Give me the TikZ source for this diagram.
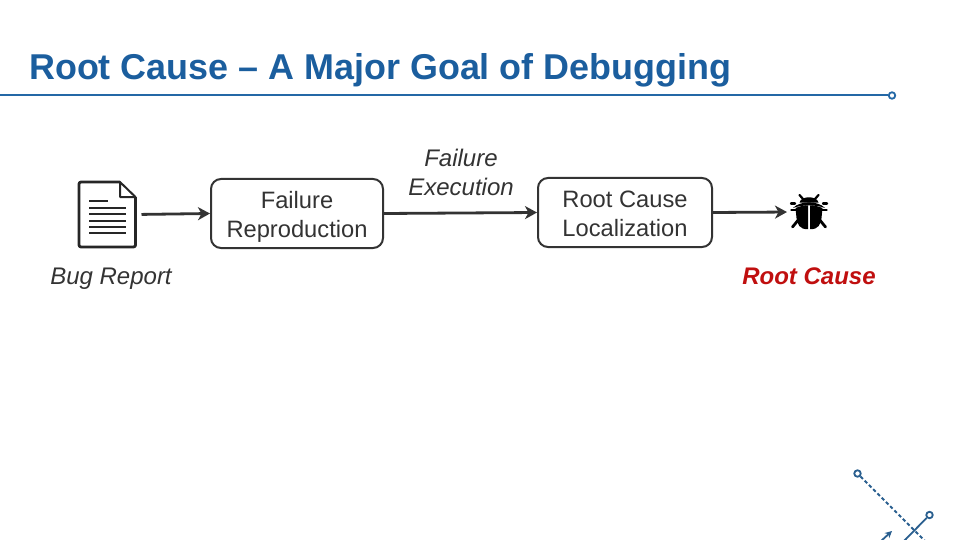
\documentclass[tikz,border=0pt]{standalone}
\usepackage{fontspec}
\setmainfont{Liberation Sans}
\usetikzlibrary{arrows.meta}
\definecolor{titleblue}{HTML}{1B5E9E}
\definecolor{ruleblue}{HTML}{2468A6}
\definecolor{decoblue}{HTML}{2A5F8F}
\definecolor{ink}{HTML}{333333}
\definecolor{causered}{HTML}{C00F0F}
\newcommand\lowstrut{\rule{0pt}{23pt}}
\newcommand\midstrut{\rule{0pt}{20pt}}
\tikzset{
  flowbox/.style={draw=ink,line width=2pt,rounded corners=10pt,inner sep=0pt,align=center,font=\fontsize{23.7}{29}\selectfont,text=ink},
  flowarrow/.style={draw=ink,line width=2.8pt,-{Stealth[length=12pt,width=13pt,inset=3.5pt]}},
  caption/.style={inner sep=0pt,font=\fontsize{24}{29}\selectfont\itshape,text=ink,align=center},
  ringend/.style={circle,draw=#1,fill=white,line width=1.8pt,minimum size=6.5pt,inner sep=0pt},
  ghost/.style={inner sep=0pt,outer sep=0pt}
}
\begin{document}
\begin{tikzpicture}[x=1pt,y=-1pt]
\useasboundingbox (0,0) rectangle (960,540);
% title
\node[anchor=base west,inner sep=0pt,font=\fontsize{35.9}{40}\selectfont\bfseries,text=titleblue] (title) at (29,80) {Root Cause – A Major Goal of Debugging};
\coordinate (ruleL) at (0,95.5);
\node[ringend=ruleblue] (ruleR) at (892,95.5) {};
\draw[ruleblue,line width=2pt] (ruleL) -- (ruleR);
% document icon
\node[ghost,minimum width=58pt,minimum height=65pt] (doc) at (107,214.5) {};
\draw[black!85,line width=2.8pt,line join=round,rounded corners=2pt] (120,182) -- (79,182) -- (79,247) -- (135.5,247) -- (135.5,197);
\draw[black!85,line width=2pt,line join=round] (120,182) -- (135.5,197) -- (120,197) -- cycle;
\foreach \yy/\xe/\lw in {201/108/1.5,208/126/2.8,214/126/1.6,221/126/2.8,227/126/1.6,233/126/2.8}
  \draw[black!85,line width=\lw pt] (89,\yy) -- (\xe,\yy);
% boxes
\node[flowbox,minimum width=172pt,minimum height=69pt] (repro) at (297,213.5) {\lowstrut Failure\\Reproduction};
\node[flowbox,minimum width=174pt,minimum height=69pt] (local) at (625,212.5) {\midstrut Root Cause\\Localization};
% bug icon
\node[ghost,minimum width=38pt,minimum height=36pt] (bug) at (809,212) {};
\begin{scope}[black]
  \fill (799.5,202.5) .. controls (801,195.5) and (817,195.5) .. (818.5,202.5) -- cycle;
  \fill (793,208) .. controls (800,200.5) and (818,200.5) .. (825,208) .. controls (816,204.5) and (802,204.5) .. (793,208) -- cycle;
  \fill (795.5,208) .. controls (800,206) and (806,205) .. (808,205.5) -- (808,229) .. controls (800,230) and (797,224) .. (796.5,218) -- cycle;
  \fill (822.5,208) .. controls (818,206) and (812,205) .. (810,205.5) -- (810,229) .. controls (818,230) and (821,224) .. (821.5,218) -- cycle;
  \draw[line width=2.2pt,line cap=round] (803,199) -- (799.5,195);
  \draw[line width=2.2pt,line cap=round] (815,199) -- (818.5,195);
  \draw[line width=2.4pt,line cap=round] (795,203.5) -- (791,203.5);
  \draw[line width=2.4pt,line cap=round] (823,203.5) -- (827,203.5);
  \draw[line width=2.8pt,line cap=round] (799,210) -- (791.5,210);
  \draw[line width=2.8pt,line cap=round] (819,210) -- (826.5,210);
  \draw[line width=2.8pt,line cap=round] (799,219) -- (792.5,227);
  \draw[line width=2.8pt,line cap=round] (819,219) -- (825.5,227);
\end{scope}
% captions
\node[caption,anchor=base] (bugcap) at (111,284) {Bug Report};
\node[caption] (execcap) at (461,172) {Failure\\Execution};
\node[caption,anchor=base,font=\fontsize{24}{29}\selectfont\itshape\bfseries,text=causered] (rootcap) at (809,284) {Root Cause};
% connectors
\draw[flowarrow,shorten <=5.5pt] (doc.east) -- (repro.west);
\draw[flowarrow] (repro.east) -- (local.west);
\draw[flowarrow,shorten >=3pt] (local.east) -- (bug.west);
% corner decoration
\node[ringend=decoblue] (ringa) at (857.5,473.5) {};
\node[ringend=decoblue] (ringb) at (929.5,515) {};
\coordinate (dashend) at (926,542);
\coordinate (lineend) at (904,541);
\coordinate (arrowA) at (881,541);
\coordinate (arrowB) at (892,531);
\draw[decoblue,line width=2pt,dash pattern=on 3.5pt off 2.5pt] (ringa) -- (dashend);
\draw[decoblue,line width=1.8pt] (ringb) -- (lineend);
\draw[decoblue,line width=1.8pt,-{Stealth[length=7pt,width=7pt]}] (arrowA) -- (arrowB);
\end{tikzpicture}
\end{document}
